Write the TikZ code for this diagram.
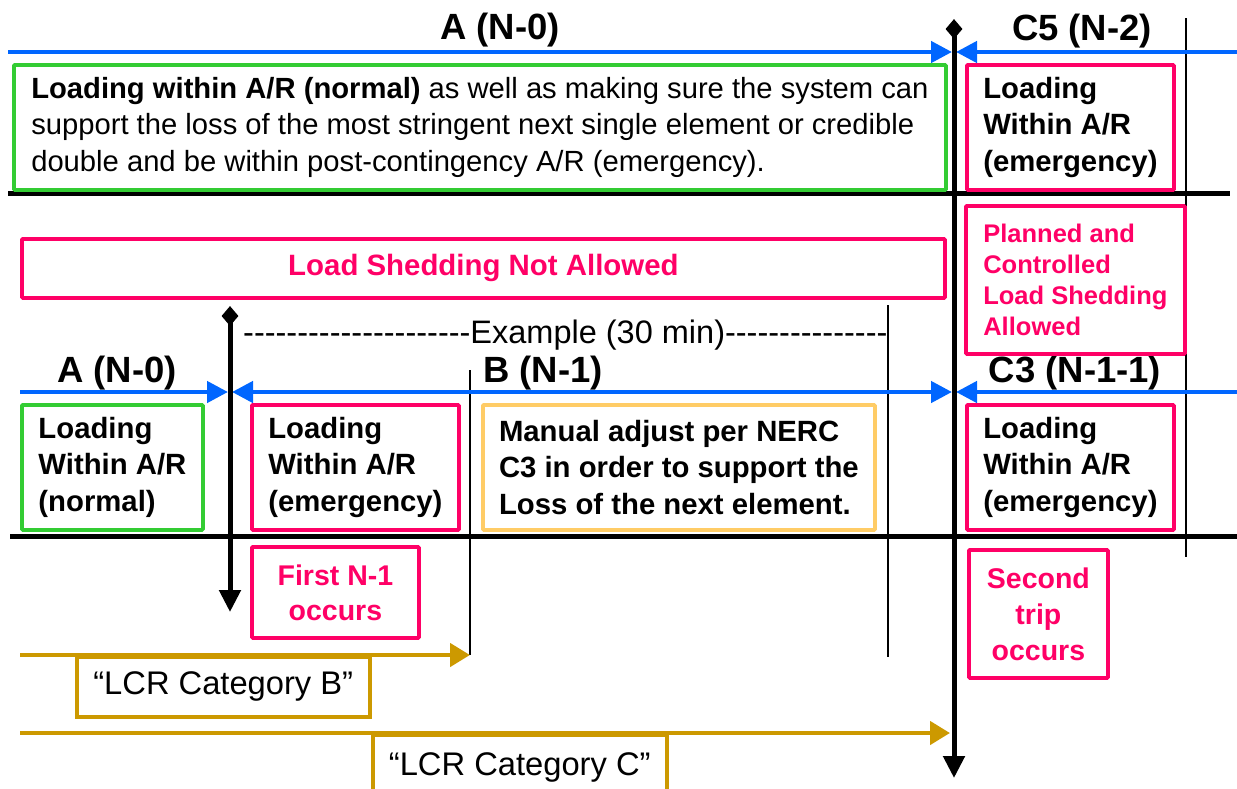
\documentclass[tikz,border=0pt]{standalone}
\usepackage{fontspec}
\setmainfont{Liberation Sans}[Ligatures=TeXOff]
\usetikzlibrary{arrows.meta,shapes.geometric}
\definecolor{cblue}{RGB}{0,102,255}
\definecolor{cgreen}{RGB}{51,204,51}
\definecolor{cpink}{RGB}{255,0,102}
\definecolor{corange}{RGB}{255,204,102}
\definecolor{cgold}{RGB}{204,153,0}
\begin{document}
\begin{tikzpicture}[x=1pt,y=-1pt,
  bx/.style={draw=#1, line width=3.8pt, anchor=north west, align=left, inner sep=0pt, rounded corners=1pt},
  bfont/.style={font=\bfseries\fontsize{29.3}{36.5}\selectfont},
  rfont/.style={font=\fontsize{29.2}{36.5}\selectfont},
  head/.style={font=\bfseries\fontsize{36.5}{40}\selectfont, inner sep=0pt, anchor=base},
  blueline/.style={draw=cblue, line width=4.5pt, -{Triangle[length=21pt,width=21pt]}},
  bluedbl/.style={draw=cblue, line width=4.5pt, {Triangle[length=21pt,width=21pt]}-{Triangle[length=21pt,width=21pt]}},
  blackline/.style={draw=black, line width=5pt},
  blackarrow/.style={draw=black, line width=5pt, -{Triangle[length=22pt,width=21pt]}},
  thinline/.style={draw=black, line width=1.4pt},
  goldarrow/.style={draw=cgold, line width=4.5pt, -{Triangle[length=20pt,width=23pt]}},
  dia/.style={diamond, fill=black, inner sep=0pt, minimum width=17pt, minimum height=20pt},
  lcr/.style={draw=cgold, line width=3.5pt, anchor=north west, inner sep=0pt, font=\fontsize{32.7}{38}\selectfont}
]
\path[use as bounding box, clip] (0,0) rectangle (1237,788);

% headings
\node[head] (hA1) at (500,39) {A (N-0)};
\node[head] (hC5) at (1082,40) {C5 (N-2)};
\node[head] (hA2) at (117,382) {A (N-0)};
\node[head] (hB) at (543,382) {B (N-1)};
\node[head] (hC3) at (1075,382) {C3 (N-1-1)};

% thin vertical lines
\coordinate (t1a) at (1186,18); \coordinate (t1b) at (1186,557);
\coordinate (t2a) at (888,305); \coordinate (t2b) at (888,657);
\coordinate (t3a) at (470,370); \coordinate (t3b) at (470,655);
\draw[thinline] (t1a) -- (t1b);
\draw[thinline] (t2a) -- (t2b);
\draw[thinline] (t3a) -- (t3b);

% blue lines
\coordinate (b1l) at (8,52); \coordinate (b1m) at (952,52);
\coordinate (b1r) at (1237,52); \coordinate (b1n) at (956,52);
\draw[blueline] (b1l) -- (b1m);
\draw[blueline] (b1r) -- (b1n);
\coordinate (b2l) at (20,392); \coordinate (b2m) at (228,392);
\coordinate (b2n) at (232,392); \coordinate (b2o) at (952,392);
\coordinate (b2r) at (1237,392); \coordinate (b2p) at (956,392);
\draw[blueline] (b2l) -- (b2m);
\draw[bluedbl] (b2n) -- (b2o);
\draw[blueline] (b2r) -- (b2p);

% black horizontal lines
\coordinate (h1l) at (8,193); \coordinate (h1r) at (1230,193);
\coordinate (h2l) at (10,536); \coordinate (h2r) at (1237,536);
\draw[blackline] (h1l) -- (h1r);
\draw[blackline] (h2l) -- (h2r);

% black vertical arrows with diamonds
\node[dia] (d1) at (954,29) {};
\coordinate (v1b) at (954,778);
\draw[blackarrow] (d1.center) -- (v1b);
\node[dia] (d2) at (230,316) {};
\coordinate (v2b) at (230,612);
\draw[blackarrow] (d2.center) -- (v2b);

% boxes row 1
\node[bx=cgreen, rfont, minimum width=932pt, minimum height=125pt] (g1) at (12,63)
 {\textbf{Loading within A/R (normal)} as well as making sure the system can\\
  support the loss of the most stringent next single element or credible\\
  double and be within post-contingency A/R (emergency).};
\node[bx=cpink, bfont, minimum width=207pt, minimum height=125pt] (p1) at (965,63)
 {Loading\\Within A/R\\(emergency)};

% load shedding
\node[bx=cpink, font=\bfseries\fontsize{29.4}{34}\selectfont, text=cpink, align=center, minimum width=923pt, minimum height=59pt] (lsna) at (20,237)
 {Load Shedding Not Allowed};
\node[bx=cpink, font=\bfseries\fontsize{25.5}{30.7}\selectfont, text=cpink, minimum width=219pt, minimum height=148pt] (plan) at (964,204)
 {Planned and\\Controlled\\Load Shedding\\Allowed};

% example
\node[font=\fontsize{32.5}{38}\selectfont, inner sep=0pt, anchor=base west] (ex) at (243,343)
 {---------------------Example (30 min)---------------};

% boxes row 2
\node[bx=cgreen, bfont, minimum width=181pt, minimum height=125pt] (g2) at (20,403)
 {Loading\\Within A/R\\(normal)};
\node[bx=cpink, bfont, minimum width=207pt, minimum height=125pt] (p2) at (250,403)
 {Loading\\Within A/R\\(emergency)};
\node[bx=corange, bfont, minimum width=392pt, minimum height=125pt] (o1) at (481,403)
 {Manual adjust per NERC\\C3 in order to support the\\Loss of the next element.};
\node[bx=cpink, bfont, minimum width=207pt, minimum height=125pt] (p3) at (965,403)
 {Loading\\Within A/R\\(emergency)};

% occurrence boxes
\node[bx=cpink, font=\bfseries\fontsize{28.5}{35}\selectfont, text=cpink, align=center, minimum width=167pt, minimum height=91pt] (first) at (250,545)
 {First N-1\\occurs};
\node[bx=cpink, font=\bfseries\fontsize{28.5}{36}\selectfont, text=cpink, align=center, minimum width=139pt, minimum height=128pt] (second) at (967,548)
 {Second\\trip\\occurs};

% LCR arrows
\coordinate (gBl) at (20,655); \coordinate (gBr) at (470,655);
\coordinate (gCl) at (20,733); \coordinate (gCr) at (950,733);
\node[lcr, minimum width=293pt, minimum height=60pt] (lcrB) at (75,655) {“LCR Category B”};
\node[lcr, minimum width=294pt, minimum height=80pt, text depth=22pt] (lcrC) at (371,733) {“LCR Category C”};
\draw[goldarrow] (gBl) -- (gBr);
\draw[goldarrow] (gCl) -- (gCr);
\end{tikzpicture}
\end{document}
